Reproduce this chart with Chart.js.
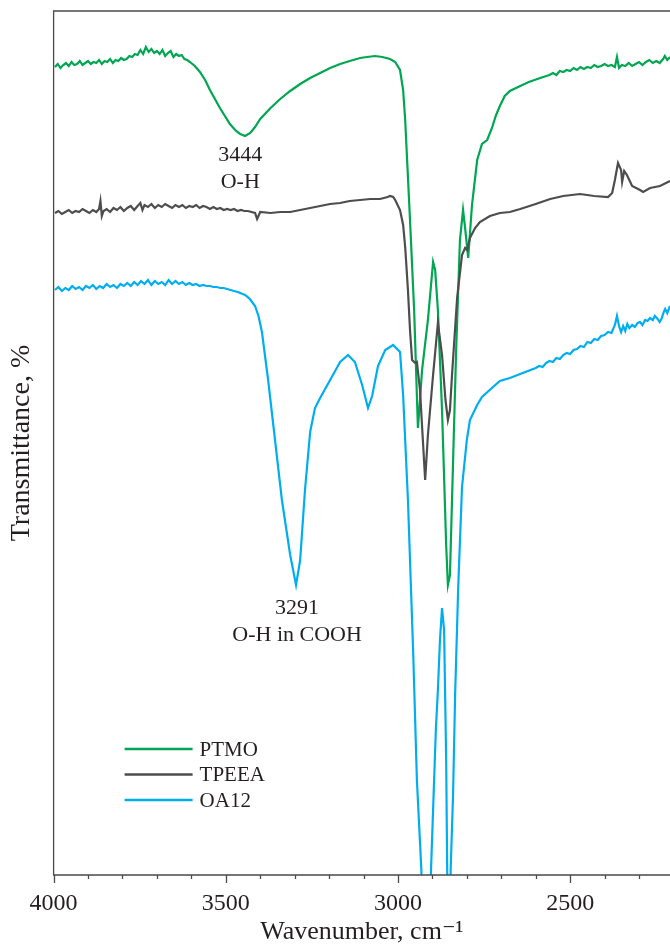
<!DOCTYPE html>
<html lang="en">
  <head>
    <meta charset="UTF-8" />
    <title>FTIR</title>
    <script src="https://cdn.jsdelivr.net/npm/chart.js"></script>
    <style>
      body { margin: 0; background: #fff; }
      #wrap { width: 670px; height: 945px; }
    </style>
  </head>
  <body>
    <div id="wrap"><canvas id="chart"></canvas></div>
    <script>
      // wavenumber (cm-1) and transmittance (arbitrary %, curves offset)
      const ptmoWn = [3996,3988,3980,3972,3964,3956,3948,3940,3932,3924,3916,3908,3900,3892,3884,3876,3868,3860,3852,3844,3836,3828,3820,3812,3804,3796,3788,3780,3772,3764,3756,3748,3740,3732,3724,3716,3708,3700,3692,3684,3676,3668,3660,3652,3644,3636,3628,3620,3612,3604,
        3590,3575,3560,3546,3517,3488,3470,3458,3444,3429,3415,3400,3370,3342,3313,3284,3255,3226,3197,3168,3140,3110,3090,3067,3045,3023,3008,2994,2985,2979,2972,2965,2953,2942,2936,2930,2913,2898,2892,2884,2872,2860,2855,2849,2843,2831,2820,2811,2805,2796,2785,2770,2756,2741,2727,2715,2704,2690,2675,2645,2620,2587,
        2560,2550,2540,2530,2520,2510,2500,2490,2480,2470,2460,2450,2440,2430,2420,2410,2400,2390,2380,2370,2364,2358,2350,2340,2330,2320,2310,2300,2290,2280,2270,2260,2250,2240,2230,2225,2218,2210];
      const ptmoT = [80.8,81.1,80.7,81.0,81.2,80.9,81.3,81.0,81.1,81.4,81.0,81.2,81.4,81.1,81.3,81.2,81.5,81.1,81.4,81.3,81.6,81.2,81.5,81.4,81.7,81.5,81.6,81.9,81.8,82.1,82.0,82.5,82.1,82.8,82.3,82.6,82.2,82.4,82.1,82.5,81.9,82.2,82.4,81.8,82.1,81.9,82.0,81.6,81.5,81.3,
        80.9,80.3,79.5,78.5,76.7,75.1,74.4,74.1,73.9,74.2,74.8,75.6,76.7,77.6,78.4,79.1,79.7,80.2,80.7,81.1,81.4,81.7,81.8,81.9,81.8,81.6,81.3,80.5,78.5,75.5,70.5,65.5,56.5,44.7,47.5,50.5,55.5,61.3,60.5,56.5,46.5,33.0,29.0,30.0,37.5,52.5,63.5,66.5,64.7,61.7,67.0,71.5,73.1,73.5,74.7,76.0,76.9,77.9,78.4,78.9,79.3,79.7,
        80.0,80.2,80.0,80.4,80.3,80.5,80.4,80.7,80.5,80.8,80.6,80.8,80.7,81.0,80.8,80.9,81.1,80.9,81.0,80.8,81.8,80.7,81.0,80.9,81.2,80.9,81.1,81.3,81.0,81.3,81.5,81.2,81.4,81.2,81.6,81.9,81.5,81.8];

      const tpeeaWn = [3996,3986,3976,3966,3956,3946,3936,3926,3916,3906,3896,3886,3876,3868,3864,3860,3855,3846,3836,3826,3816,3806,3796,3786,3776,3766,3756,3748,3742,3736,3726,3716,3706,3696,3686,3676,3666,3656,3646,3636,3626,3616,3606,3596,3586,3576,3566,3556,3546,3536,3526,3516,3506,3496,3486,3476,3466,3456,3446,3436,3425,3415,3409,3400,
        3370,3342,3313,3284,3255,3226,3197,3168,3140,3110,3080,3052,3030,3023,3014,3008,2994,2985,2979,2971,2965,2959,2950,2945,2936,2921,2913,2898,2884,2872,2862,2855,2849,2843,2828,2814,2805,2799,2791,2776,2762,2733,2704,2675,2645,2600,2558,2520,2471,2430,2390,2378,2370,2361,2352,2349,2343,2335,2320,2297,2288,2268,2239,2210];
      const tpeeaT = [66.2,66.4,66.1,66.3,66.5,66.2,66.4,66.3,66.6,66.4,66.2,66.5,66.3,66.6,67.4,65.9,66.4,66.6,66.3,66.7,66.5,66.8,66.4,66.7,66.9,66.5,66.9,67.2,66.5,67.0,66.8,67.1,66.7,67.0,66.8,67.1,66.9,66.7,67.0,66.8,67.0,66.7,66.9,66.8,67.0,66.7,66.9,66.8,66.6,66.8,66.6,66.7,66.5,66.6,66.5,66.6,66.4,66.5,66.4,66.4,66.3,66.2,65.6,66.3,
        66.2,66.3,66.3,66.5,66.7,66.9,67.1,67.2,67.4,67.5,67.6,67.6,67.8,67.9,67.8,67.5,66.5,65.0,62.8,58.5,54.5,51.5,51.2,51.3,48.5,39.5,44.0,50.0,55.2,52.0,47.5,45.5,46.5,50.0,57.8,62.0,62.7,62.5,63.7,64.7,65.3,65.9,66.2,66.3,66.6,67.1,67.6,67.9,68.1,67.9,67.8,68.2,69.5,71.2,70.5,69.3,70.4,70.0,68.9,68.5,68.3,68.7,68.9,69.4];

      const oa12Wn = [3996,3986,3976,3966,3956,3946,3936,3926,3916,3906,3896,3886,3876,3866,3856,3846,3836,3826,3816,3806,3796,3786,3776,3766,3756,3746,3736,3726,3716,3706,3696,3686,3676,3666,3656,3646,3636,3626,3616,3606,3596,3586,3576,3566,3556,3546,3536,3526,3516,3506,3496,3486,3476,
        3465,3444,3430,3415,3405,3395,3377,3357,3337,3313,3296,3284,3270,3255,3241,3226,3197,3168,3145,3125,3104,3087,3075,3058,3037,3014,2994,2985,2971,2956,2945,2932,2918,2904,2890,2884,2878,2872,2866,2860,2857,2852,2847,2840,2834,2825,2814,2800,2791,2770,2756,2724,2704,2675,2645,
        2600,2590,2580,2570,2560,2550,2540,2530,2520,2510,2500,2490,2480,2470,2460,2450,2440,2430,2420,2410,2400,2390,2380,2370,2364,2358,2352,2346,2340,2334,2328,2320,2312,2304,2297,2290,2282,2275,2268,2260,2254,2246,2240,2235,2228,2224,2218,2210];
      const oa12T = [58.5,58.8,58.4,58.7,58.5,58.9,58.6,58.8,58.5,58.9,58.7,59.0,58.6,58.9,58.7,59.1,58.8,59.0,58.7,59.1,58.9,59.2,58.9,59.3,59.0,59.4,59.1,59.5,59.0,59.4,59.1,59.3,59.0,59.5,59.1,59.4,59.1,59.3,59.0,59.2,59.0,59.1,58.9,59.0,58.9,58.9,58.8,58.8,58.7,58.7,58.6,58.5,58.4,
        58.3,58.0,57.6,56.9,55.9,54.3,49.5,43.5,37.5,32.0,29.0,31.5,38.5,44.3,46.7,47.7,49.5,51.3,52.0,51.3,49.0,46.7,47.9,50.9,52.5,53.0,52.3,48.0,37.5,22.5,9.5,0.5,-25,0.5,14.5,18.5,23.5,26.7,24.5,11.5,0.5,-25,0.5,8.0,18.0,28.8,38.8,43.5,45.5,47.0,47.8,48.8,49.4,49.7,50.1,
        50.7,50.9,50.8,51.2,51.4,51.3,51.7,51.6,52.0,52.2,52.1,52.5,52.6,52.9,52.8,53.3,53.2,53.6,53.5,53.9,54.0,54.3,54.2,55.0,55.9,54.9,54.3,54.9,54.4,55.1,54.7,55.0,54.8,55.2,55.3,55.0,55.5,55.4,55.7,55.5,55.9,55.6,55.3,55.6,56.3,56.6,56.2,56.9];

      const seriesNames = ["PTMO", "TPEEA", "OA12"];
      const seriesColors = ["#00a651", "#4d4d4d", "#00aeef"];

      const notes = [
        { text: "3444", wn: 3458, t: 72.0 },
        { text: "O-H", wn: 3458, t: 69.3 },
        { text: "3291", wn: 3293, t: 26.7 },
        { text: "O-H in COOH", wn: 3293, t: 24.0 },
      ];

      const xMin = 2210, xMax = 4000, yMin = 0, yMax = 86.4;
      const tickValues = [];
      for (let v = 2300; v <= xMax; v += 100) tickValues.push(v);

      const font = "'Liberation Serif', 'DejaVu Serif', serif";
      const ink = "#231f20";

      function pts(wn, t) {
        return wn.map((w, i) => ({ x: w, y: t[i] }));
      }

      const framePlugin = {
        id: "frame",
        afterDraw(chart) {
          const ctx = chart.ctx;
          const a = chart.chartArea;
          const xs = chart.scales.x;
          const ys = chart.scales.y;
          ctx.save();
          ctx.strokeStyle = "#4a4a4a";
          ctx.lineWidth = 1.3;
          ctx.beginPath();
          ctx.moveTo(a.right + 1, a.top);
          ctx.lineTo(a.left, a.top);
          ctx.lineTo(a.left, a.bottom);
          ctx.lineTo(a.right + 1, a.bottom);
          ctx.stroke();
          // tick marks, major every 500, minor every 100
          tickValues.forEach((v) => {
            const px = Math.round(xs.getPixelForValue(v)) + 0.5;
            const len = v % 500 === 0 ? 8 : 4;
            ctx.beginPath();
            ctx.moveTo(px, a.bottom);
            ctx.lineTo(px, a.bottom + len);
            ctx.stroke();
          });
          // legend
          ctx.font = "21px " + font;
          ctx.textBaseline = "middle";
          ctx.fillStyle = ink;
          chart.data.datasets.forEach((ds, i) => {
            const y = a.bottom - 126 + i * 25.5;
            ctx.strokeStyle = ds.borderColor;
            ctx.lineWidth = 2.5;
            ctx.beginPath();
            ctx.moveTo(a.left + 71, y);
            ctx.lineTo(a.left + 139, y);
            ctx.stroke();
            ctx.fillText(ds.label, a.left + 146, y + 1);
          });
          // peak notes
          ctx.font = "22px " + font;
          ctx.textAlign = "center";
          notes.forEach((n) => {
            ctx.fillText(n.text, xs.getPixelForValue(n.wn), ys.getPixelForValue(n.t));
          });
          ctx.restore();
        },
      };

      new Chart(document.getElementById("chart"), {
        type: "line",
        data: {
          datasets: [
            { label: seriesNames[0], data: pts(ptmoWn, ptmoT), borderColor: seriesColors[0], order: 2 },
            { label: seriesNames[1], data: pts(tpeeaWn, tpeeaT), borderColor: seriesColors[1], order: 1 },
            { label: seriesNames[2], data: pts(oa12Wn, oa12T), borderColor: seriesColors[2], order: 0 },
          ],
        },
        options: {
          responsive: true,
          maintainAspectRatio: false,
          animation: false,
          layout: { padding: { top: 11, right: 0, bottom: 0, left: 0 } },
          elements: {
            point: { radius: 0 },
            line: { borderWidth: 2.2, tension: 0, fill: false },
          },
          plugins: { legend: { display: false }, tooltip: { enabled: false } },
          scales: {
            x: {
              type: "linear",
              reverse: true,
              min: xMin,
              max: xMax,
              grid: { display: false, drawTicks: false },
              border: { display: false },
              afterBuildTicks: (s) => {
                s.ticks = tickValues.map((v) => ({ value: v }));
              },
              afterFit: (s) => {
                s.paddingLeft = 0;
                s.paddingRight = 0;
                s.height = 70;
              },
              ticks: {
                autoSkip: false,
                maxRotation: 0,
                padding: 14,
                color: ink,
                font: { family: font, size: 24 },
                callback: (v) => (v % 500 === 0 ? v : ""),
              },
              title: {
                display: true,
                text: "Wavenumber, cm⁻¹",
                color: ink,
                font: { family: font, size: 26, lineHeight: 1.0 },
                padding: { top: 0, bottom: 0 },
              },
            },
            y: {
              min: yMin,
              max: yMax,
              grid: { display: false, drawTicks: false },
              border: { display: false },
              ticks: { display: false },
              title: {
                display: true,
                text: "Transmittance, %",
                color: ink,
                font: { family: font, size: 28, lineHeight: 1.2 },
                padding: { top: 5, bottom: 15 },
              },
            },
          },
        },
        plugins: [framePlugin],
      });
    </script>
  </body>
</html>
